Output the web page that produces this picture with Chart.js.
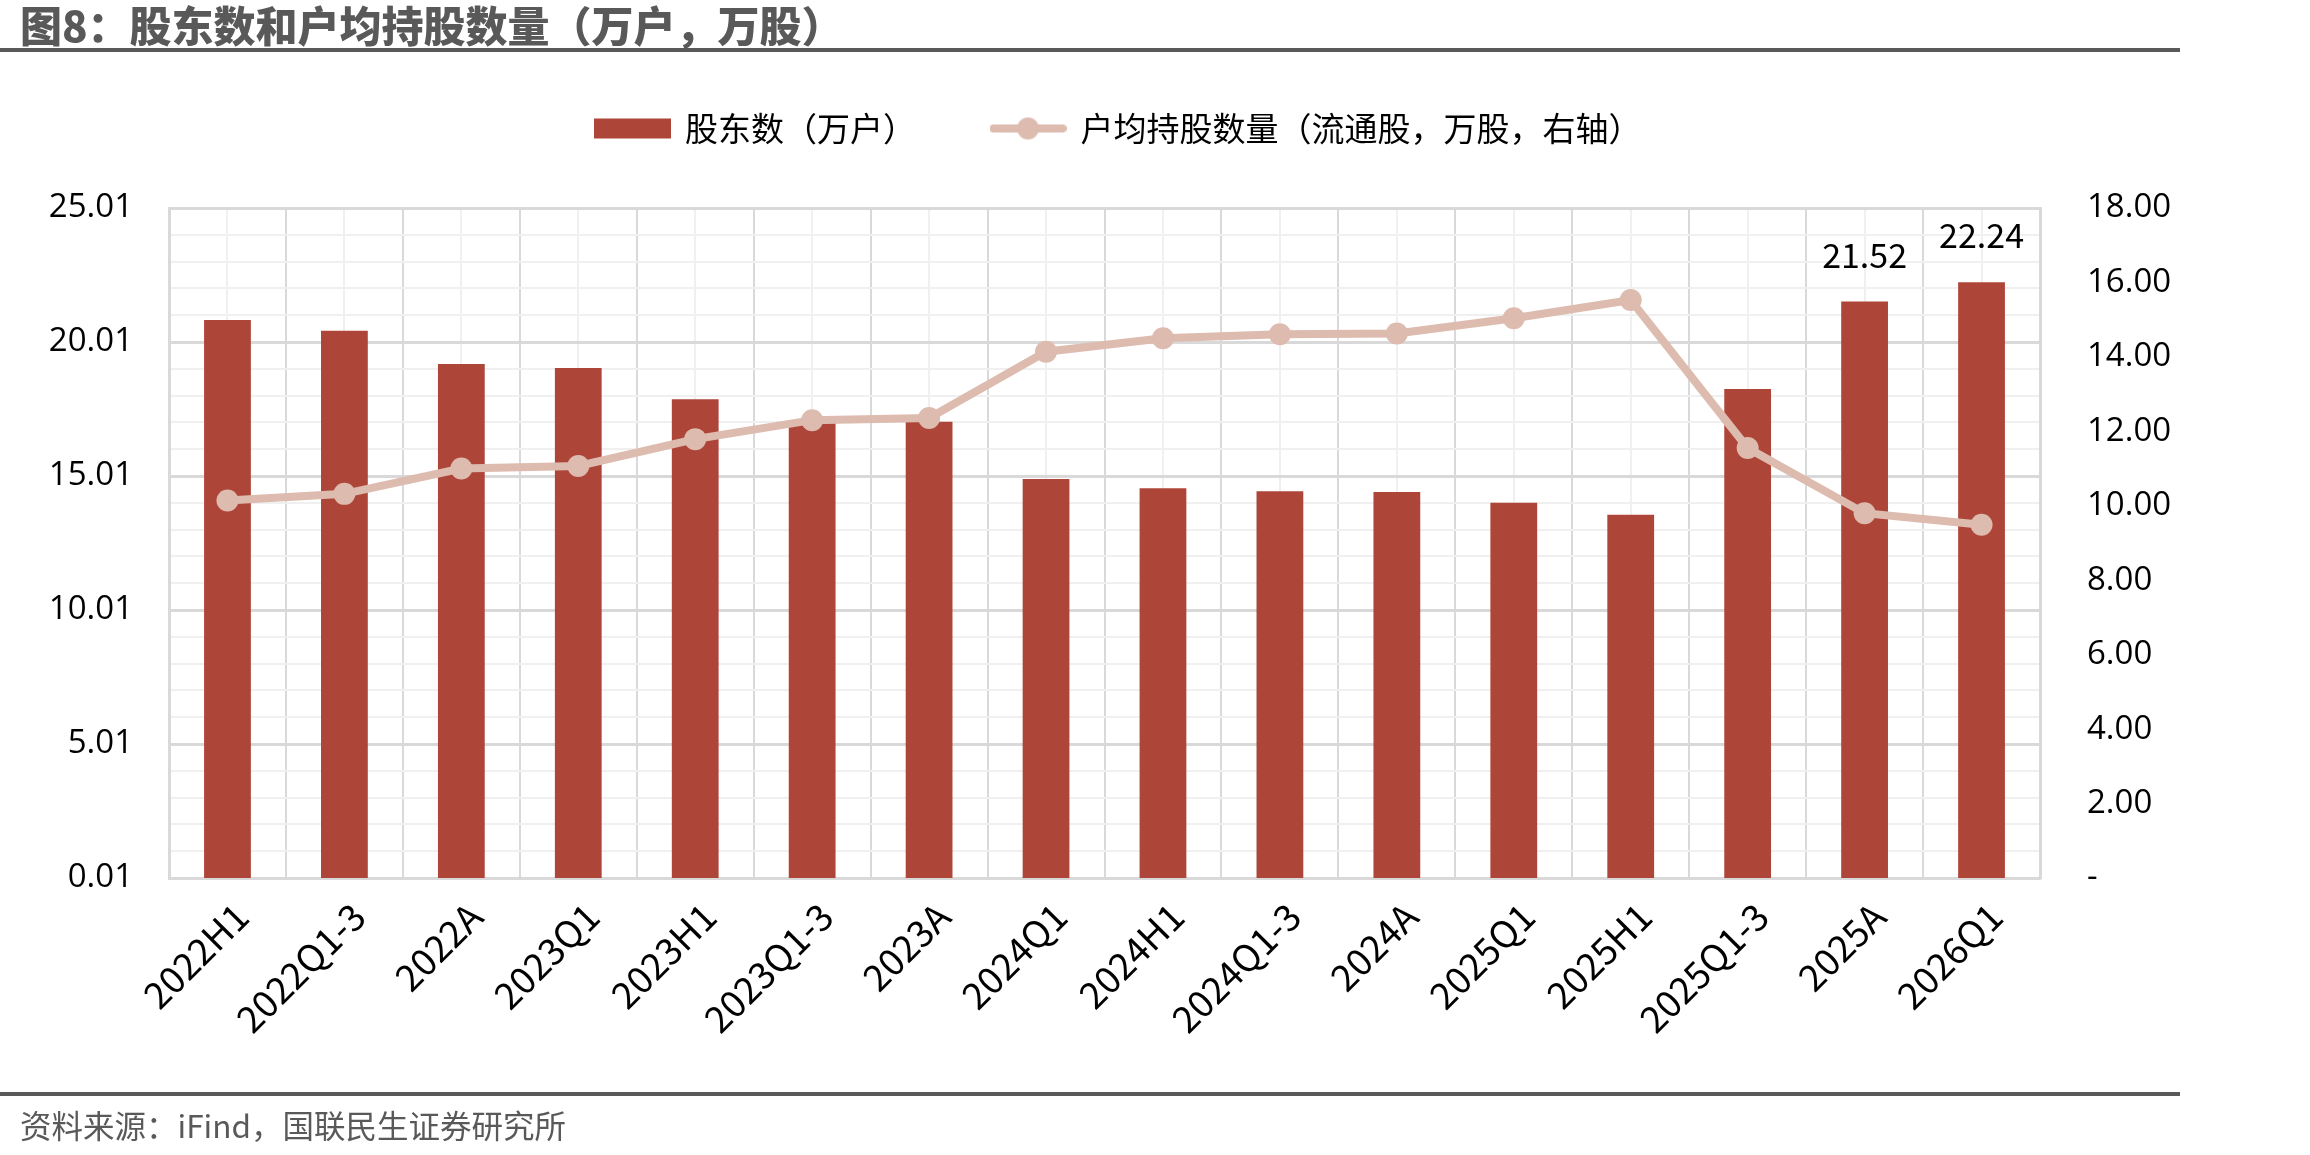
<!DOCTYPE html>
<html><head><meta charset="utf-8">
<script src="https://cdn.jsdelivr.net/npm/chart.js@4.4.1/dist/chart.umd.min.js"></script>
<style>
html,body{margin:0;padding:0;background:#fff;}
#wrap{position:relative;width:2310px;height:1155px;overflow:hidden;background:#fff;}
#c{position:absolute;left:0;top:0;}
.title{position:absolute;left:20px;top:0px;font:900 42px "Noto Sans CJK SC";color:#595959;line-height:48px;white-space:nowrap;}
.rule{position:absolute;left:0;width:2180px;background:#595959;}
.src{position:absolute;left:20px;top:1104px;font:31.5px "Noto Sans CJK SC";color:#595959;line-height:40px;white-space:nowrap;}
</style></head><body>
<div id="wrap">
<canvas id="c" width="2310" height="1155"></canvas>
<div class="title">图8：股东数和户均持股数量（万户，万股）</div>
<div class="rule" style="top:48px;height:4px"></div>
<div class="rule" style="top:1092px;height:4px"></div>
<div class="src">资料来源：iFind，国联民生证券研究所</div>
</div>
<script>
// ---- data ----
const categories = ['2022H1','2022Q1-3','2022A','2023Q1','2023H1','2023Q1-3','2023A','2024Q1','2024H1','2024Q1-3','2024A','2025Q1','2025H1','2025Q1-3','2025A','2026Q1'];
const shareholders = [20.83, 20.43, 19.19, 19.04, 17.87, 17.10, 17.03, 14.90, 14.55, 14.44, 14.41, 14.01, 13.56, 18.26, 21.52, 22.24];
const avgHolding = [10.14, 10.32, 11.00, 11.07, 11.79, 12.30, 12.36, 14.14, 14.50, 14.61, 14.63, 15.04, 15.53, 11.55, 9.80, 9.49];
const seriesNames = ['股东数（万户）', '户均持股数量（流通股，万股，右轴）'];
const leftMajorTicks = [0.01, 5.01, 10.01, 15.01, 20.01, 25.01];
const leftMinorStep = 1;
const rightTicks = [0, 2, 4, 6, 8, 10, 12, 14, 16, 18];
const rightZeroLabel = '-';
const labeledCategories = ['2025A', '2026Q1'];

// ---- style ----
const BAR_COLOR = '#AE4539';
const LINE_COLOR = '#DDBBAF';
const GRID_MAJOR = '#D9D9D9';
const GRID_MINOR = '#F0F0F0';
const CJK = '"Noto Sans CJK SC"';

function makeSample(kind) {
  const c = document.createElement('canvas');
  c.width = 77; c.height = 24;
  const g = c.getContext('2d');
  if (kind === 'bar') {
    g.fillStyle = BAR_COLOR; g.fillRect(0, 2, 77, 20);
  } else {
    g.strokeStyle = LINE_COLOR; g.lineWidth = 8; g.lineCap = 'round';
    g.beginPath(); g.moveTo(4, 12); g.lineTo(73, 12); g.stroke();
    g.fillStyle = LINE_COLOR; g.beginPath(); g.arc(38.5, 12, 11, 0, Math.PI * 2); g.fill();
  }
  return c;
}
const sampleBar = makeSample('bar');
const sampleLine = makeSample('line');

const leftMin = leftMajorTicks[0], leftMax = leftMajorTicks[leftMajorTicks.length - 1];
const isMajor = v => leftMajorTicks.some(t => Math.abs(t - v) < 1e-6);

const legendSpace = {
  id: 'legendSpace',
  beforeInit(chart) {
    const lg = chart.legend;
    const orig = lg.fit.bind(lg);
    lg.fit = function () { orig(); this.height = 172; };
  }
};

const barLabels = {
  id: 'barLabels',
  afterDatasetsDraw(chart) {
    const meta = chart.getDatasetMeta(0);
    const ctx = chart.ctx;
    ctx.save();
    ctx.font = '34px ' + CJK;
    ctx.fillStyle = '#000';
    ctx.textAlign = 'center';
    ctx.textBaseline = 'alphabetic';
    labeledCategories.forEach(cat => {
      const i = categories.indexOf(cat);
      const el = meta.data[i];
      ctx.fillText(shareholders[i].toFixed(2), el.x, el.y - 34);
    });
    ctx.restore();
  }
};

new Chart(document.getElementById('c'), {
  data: {
    labels: categories,
    datasets: [
      { type: 'bar', label: seriesNames[0], data: shareholders, backgroundColor: BAR_COLOR,
        barPercentage: 0.4, categoryPercentage: 1, yAxisID: 'y', order: 2 },
      { type: 'line', label: seriesNames[1], data: avgHolding, borderColor: LINE_COLOR, borderWidth: 8,
        pointRadius: 11, pointBackgroundColor: LINE_COLOR, pointBorderWidth: 0, pointHoverRadius: 11,
        tension: 0, yAxisID: 'y1', order: 1 }
    ]
  },
  options: {
    responsive: false,
    devicePixelRatio: 1,
    animation: false,
    layout: { padding: { top: 36, left: 0, right: 72, bottom: 0 } },
    plugins: {
      tooltip: { enabled: false },
      legend: {
        position: 'top',
        labels: {
          usePointStyle: true,
          pointStyleWidth: 72,
          padding: 76,
          color: '#000',
          font: { family: CJK, size: 33 },
          generateLabels() {
            return [
              { text: seriesNames[0], pointStyle: sampleBar, datasetIndex: 0, hidden: false, fillStyle: 'rgba(0,0,0,0)', strokeStyle: 'rgba(0,0,0,0)', lineWidth: 0, fontColor: '#000' },
              { text: seriesNames[1], pointStyle: sampleLine, datasetIndex: 1, hidden: false, fillStyle: 'rgba(0,0,0,0)', strokeStyle: 'rgba(0,0,0,0)', lineWidth: 0, fontColor: '#000' }
            ];
          }
        }
      }
    },
    scales: {
      xMinor: {
        type: 'category', position: 'bottom', offset: true, z: -1,
        grid: { offset: false, color: GRID_MINOR, lineWidth: 2, drawTicks: false },
        ticks: { display: false }, border: { display: false },
        afterFit(s) { s.height = 0; }
      },
      x: {
        type: 'category', position: 'bottom', offset: true,
        grid: { offset: true, color: GRID_MAJOR, lineWidth: 2, drawTicks: false },
        border: { color: GRID_MAJOR, width: 3 },
        ticks: { font: { family: CJK, size: 37 }, color: '#000', minRotation: 45, maxRotation: 45, autoSkip: false, padding: 16, labelOffset: 14 },
        afterFit(s) { s.height = 277; }
      },
      y: {
        type: 'linear', position: 'left', min: leftMin, max: leftMax,
        afterBuildTicks(s) {
          const t = [];
          for (let v = leftMin; v <= leftMax + 1e-6; v += leftMinorStep) t.push({ value: Math.round(v * 100) / 100 });
          s.ticks = t;
        },
        ticks: {
          autoSkip: false, padding: 36, color: '#000', font: { family: 'Open Sans', size: 33 },
          callback: v => isMajor(v) ? v.toFixed(2) : ''
        },
        grid: {
          drawTicks: false,
          color: c => (c.tick && isMajor(c.tick.value)) ? GRID_MAJOR : GRID_MINOR,
          lineWidth: c => (c.tick && isMajor(c.tick.value)) ? 3 : 2
        },
        border: { color: GRID_MAJOR, width: 3 },
        afterFit(s) { s.width = 169; }
      },
      y1: {
        type: 'linear', position: 'right', min: rightTicks[0], max: rightTicks[rightTicks.length - 1],
        afterBuildTicks(s) { s.ticks = rightTicks.map(v => ({ value: v })); },
        ticks: {
          autoSkip: false, padding: 47, color: '#000', font: { family: 'Open Sans', size: 33 },
          callback: v => v === 0 ? rightZeroLabel : v.toFixed(2)
        },
        grid: { display: false, drawTicks: false },
        border: { color: GRID_MAJOR, width: 3 },
        afterFit(s) { s.width = 198; }
      }
    }
  },
  plugins: [legendSpace, barLabels]
});
</script>
</body></html>
